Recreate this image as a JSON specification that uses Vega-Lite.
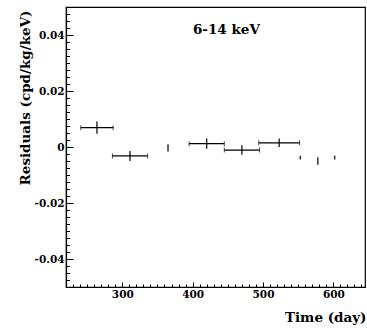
{
  "$schema": "https://vega.github.io/schema/vega-lite/v6.json",
  "width": 299,
  "height": 280,
  "autosize": {"type": "none"},
  "padding": {"left": 66, "top": 7, "right": 2, "bottom": 44},
  "background": "white",
  "config": {
    "view": {"stroke": "black", "strokeWidth": 1.2},
    "font": "DejaVu Serif",
    "axis": {"grid": false, "domainColor": "black", "tickColor": "black", "labelColor": "black", "titleColor": "black", "domainWidth": 1.2, "tickWidth": 1}
  },
  "datasets": {
    "pts": [
      {"t": 264, "terr": 23, "r": 0.0069, "rerr": 0.0022},
      {"t": 311, "terr": 25, "r": -0.0032, "rerr": 0.0018},
      {"t": 365, "terr": 0, "r": -0.0003, "rerr": 0.0013},
      {"t": 420, "terr": 25, "r": 0.0012, "rerr": 0.0018},
      {"t": 470, "terr": 25, "r": -0.0011, "rerr": 0.0017},
      {"t": 523, "terr": 29, "r": 0.0015, "rerr": 0.0015},
      {"t": 553, "terr": 0, "r": -0.0038, "rerr": 0.0007},
      {"t": 578, "terr": 0, "r": -0.005, "rerr": 0.0013},
      {"t": 602, "terr": 0, "r": -0.0038, "rerr": 0.0007}
    ],
    "label": [{"t": 448, "r": 0.0418, "text": "6-14 keV"}]
  },
  "layer": [
    {
      "mark": {"type": "rule", "color": "black", "strokeWidth": 1},
      "encoding": {
        "y": {"datum": 0, "type": "quantitative", "scale": {"domain": [-0.05, 0.05], "nice": false, "zero": false}, "axis": null}
      }
    },
    {
      "data": {"name": "pts"},
      "transform": [{"filter": "datum.terr > 0"}],
      "mark": {"type": "errorbar", "ticks": {"size": 5, "color": "black"}, "rule": {"color": "black", "strokeWidth": 1.2}, "color": "black"},
      "encoding": {
        "x": {
          "field": "t", "type": "quantitative",
          "scale": {"domain": [220, 645], "nice": false, "zero": false},
          "axis": {
            "orient": "bottom", "values": [300, 400, 500, 600], "format": "d",
            "tickSize": -5, "labelPadding": 7,
            "labelFont": "DejaVu Serif", "labelFontWeight": "bold", "labelFontSize": 10.5,
            "title": "Time (day)", "titleFont": "DejaVu Serif", "titleFontWeight": "bold", "titleFontSize": 13.5,
            "titleAnchor": "end", "titleAlign": "right", "titleBaseline": "middle", "titleX": 300, "titleY": 30
          }
        },
        "xError": {"field": "terr"},
        "y": {
          "field": "r", "type": "quantitative",
          "scale": {"domain": [-0.05, 0.05], "nice": false, "zero": false},
          "axis": {
            "orient": "left", "values": [-0.04, -0.02, 0, 0.02, 0.04],
            "labelExpr": "datum.value == 0 ? '0' : replace(format(datum.value, '.2f'), '\u2212', '-')",
            "tickSize": -7, "labelPadding": 9,
            "labelFont": "DejaVu Serif", "labelFontWeight": "bold", "labelFontSize": 10.5,
            "title": "Residuals (cpd/kg/keV)", "titleFont": "DejaVu Serif", "titleFontWeight": "bold", "titleFontSize": 13.5,
            "titleAngle": 270, "titleAlign": "right", "titleBaseline": "middle", "titleX": -41, "titleY": 3
          }
        }
      }
    },
    {
      "data": {"name": "pts"},
      "mark": {"type": "errorbar", "ticks": false, "rule": {"color": "black", "strokeWidth": 1.2}, "color": "black"},
      "encoding": {
        "x": {
          "field": "t", "type": "quantitative",
          "scale": {"domain": [220, 645], "nice": false, "zero": false},
          "axis": {
            "orient": "bottom", "labels": false, "domain": false, "tickSize": -3, "title": null,
            "values": [230, 240, 250, 260, 270, 280, 290, 310, 320, 330, 340, 350, 360, 370, 380, 390, 410, 420, 430, 440, 450, 460, 470, 480, 490, 510, 520, 530, 540, 550, 560, 570, 580, 590, 610, 620, 630, 640]
          }
        },
        "y": {
          "field": "r", "type": "quantitative",
          "scale": {"domain": [-0.05, 0.05], "nice": false, "zero": false},
          "axis": {
            "orient": "left", "labels": false, "domain": false, "tickSize": -3.5, "title": null,
            "values": [-0.0475, -0.045, -0.0425, -0.0375, -0.035, -0.0325, -0.03, -0.0275, -0.025, -0.0225, -0.0175, -0.015, -0.0125, -0.01, -0.0075, -0.005, -0.0025, 0.0025, 0.005, 0.0075, 0.01, 0.0125, 0.015, 0.0175, 0.0225, 0.025, 0.0275, 0.03, 0.0325, 0.035, 0.0375, 0.0425, 0.045, 0.0475]
          }
        },
        "yError": {"field": "rerr"}
      }
    },
    {
      "data": {"name": "label"},
      "mark": {"type": "text", "font": "DejaVu Serif", "fontWeight": "bold", "fontSize": 13.5, "color": "black", "align": "center", "baseline": "middle"},
      "encoding": {
        "x": {"field": "t", "type": "quantitative", "scale": {"domain": [220, 645], "nice": false, "zero": false}, "axis": null},
        "y": {"field": "r", "type": "quantitative", "scale": {"domain": [-0.05, 0.05], "nice": false, "zero": false}, "axis": null},
        "text": {"field": "text"}
      }
    }
  ],
  "resolve": {"axis": {"x": "independent", "y": "independent"}}
}
